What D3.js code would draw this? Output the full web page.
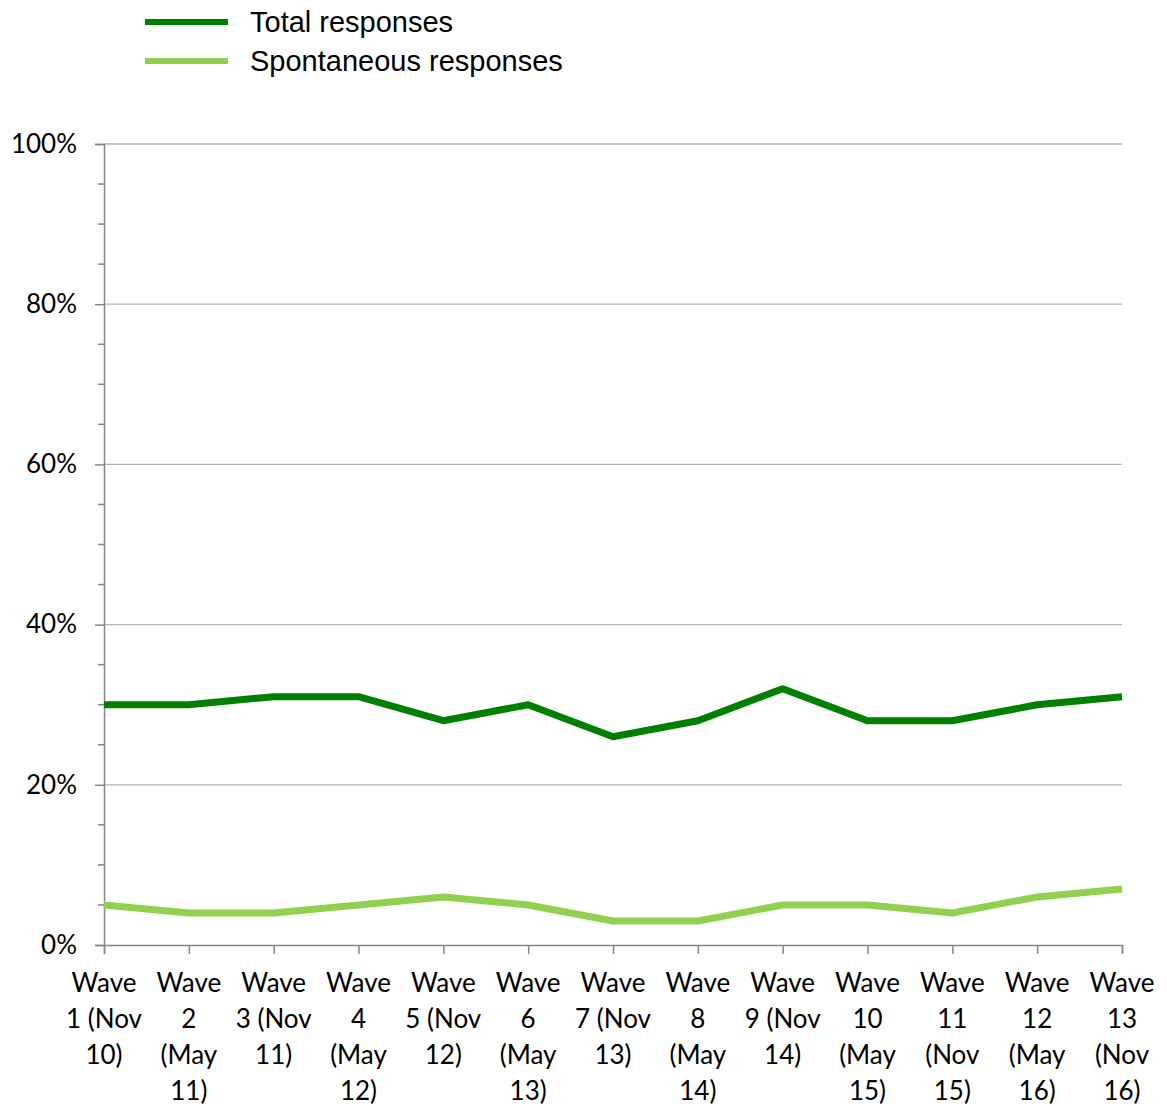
<!DOCTYPE html>
<html><head><meta charset="utf-8">
<script src="https://cdn.jsdelivr.net/npm/d3@7"></script>
<style>body{margin:0;background:#fff}svg{display:block}</style>
</head><body>
<script>
const categories = ["Wave\n1 (Nov\n10)","Wave\n2\n(May\n11)","Wave\n3 (Nov\n11)","Wave\n4\n(May\n12)","Wave\n5 (Nov\n12)","Wave\n6\n(May\n13)","Wave\n7 (Nov\n13)","Wave\n8\n(May\n14)","Wave\n9 (Nov\n14)","Wave\n10\n(May\n15)","Wave\n11\n(Nov\n15)","Wave\n12\n(May\n16)","Wave\n13\n(Nov\n16)"];
const totalResponses = [30,30,31,31,28,30,26,28,32,28,28,30,31];
const spontaneousResponses = [5,4,4,5,6,5,3,3,5,5,4,6,7];
const seriesNames = ["Total responses","Spontaneous responses"];
const seriesColors = ["#008000","#92D050"];
const yTicks = [0,20,40,60,80,100];
const yMinorTicks = [5,10,15,25,30,35,45,50,55,65,70,75,85,90,95];

const W=1167,H=1106;
const svg=d3.select("body").append("svg").attr("width",W).attr("height",H);
const x=d3.scalePoint().domain(d3.range(categories.length)).range([104,1122]);
const y=d3.scaleLinear().domain([0,100]).range([945,144]);
const axisFont="Lato, 'Open Sans', sans-serif";
const axisSize=26;

// gridlines
svg.append("g").selectAll("line").data(yTicks.filter(d=>d>0)).join("line")
  .attr("x1",104).attr("x2",1122).attr("y1",d=>y(d)).attr("y2",d=>y(d))
  .attr("stroke","#b3b3b3").attr("stroke-width",1.3);

// y axis
const yAxis=svg.append("g").attr("transform","translate(104,0)")
  .call(d3.axisLeft(y).tickValues(yTicks).tickFormat(d=>d+"%").tickSize(9).tickPadding(18));
yAxis.select(".domain").attr("stroke","#868686").attr("stroke-width",1.5);
yAxis.selectAll(".tick line").attr("stroke","#868686").attr("stroke-width",1.5);
yAxis.selectAll(".tick text").attr("font-family",axisFont).attr("font-size",axisSize).attr("fill","#000");
svg.append("g").selectAll("line").data(yMinorTicks).join("line")
  .attr("x1",98).attr("x2",104).attr("y1",d=>y(d)).attr("y2",d=>y(d))
  .attr("stroke","#868686").attr("stroke-width",1.5);

// x axis
const xAxis=svg.append("g").attr("transform","translate(0,945)")
  .call(d3.axisBottom(x).tickSize(9).tickFormat(""));
xAxis.select(".domain").attr("stroke","#868686").attr("stroke-width",1.5);
xAxis.selectAll(".tick line").attr("stroke","#868686").attr("stroke-width",1.5);
const lab=svg.append("g");
categories.forEach((c,i)=>{
  const t=lab.append("text").attr("text-anchor","middle").attr("font-family",axisFont).attr("font-size",axisSize).attr("fill","#000");
  c.split("\n").forEach((l,j)=>{
    t.append("tspan").attr("x",x(i)).attr("y",992+j*36).text(l);
  });
});

// lines
const line=d3.line().x((d,i)=>x(i)).y(d=>y(d)).curve(d3.curveLinear);
[[spontaneousResponses,1],[totalResponses,0]].forEach(([s,idx])=>{
  svg.append("path").datum(s).attr("d",line).attr("fill","none")
    .attr("stroke",seriesColors[idx]).attr("stroke-width",7).attr("stroke-linejoin","round");
});

// legend
seriesNames.forEach((n,i)=>{
  const yy=22+i*39;
  svg.append("line").attr("x1",145).attr("x2",228).attr("y1",yy).attr("y2",yy)
    .attr("stroke",seriesColors[i]).attr("stroke-width",6);
  svg.append("text").attr("x",250).attr("y",yy+10).attr("font-family","'Liberation Sans', Arial, sans-serif")
    .attr("font-size",29).attr("fill","#000").text(n);
});
</script>
</body></html>
